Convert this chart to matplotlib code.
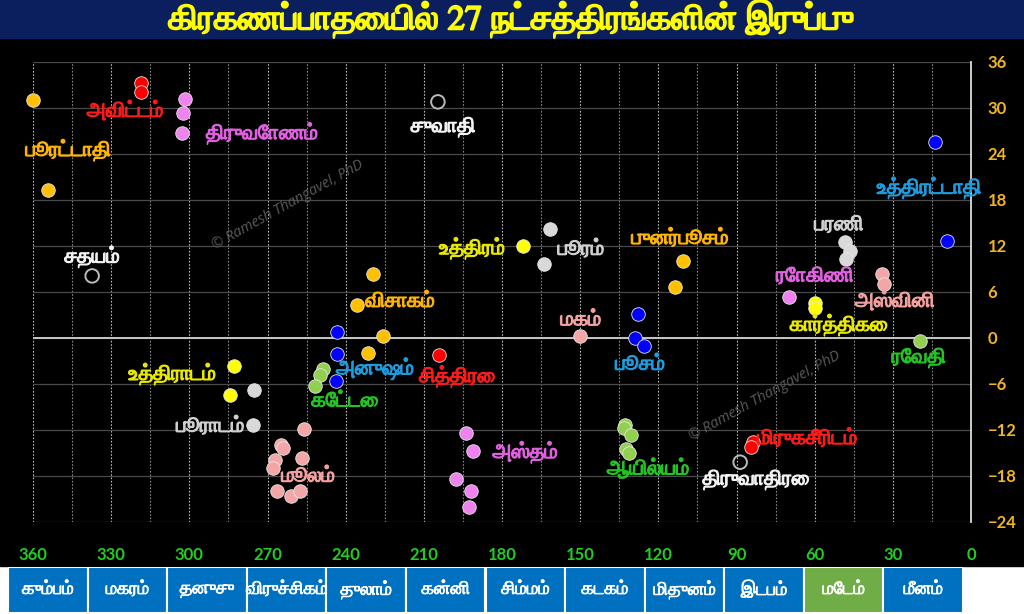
import matplotlib
matplotlib.use('Agg')
import matplotlib.pyplot as plt
import matplotlib.patheffects as pe
from matplotlib.patches import Rectangle

# --- data -------------------------------------------------------------
title = 'கிரகணப்பாதையில் 27 நட்சத்திரங்களின் இருப்பு'

names = ['அஸ்வினி', 'பரணி', 'கார்த்திகை', 'ரோகிணி', 'மிருகசீரிடம்', 'திருவாதிரை',
         'புனர்பூசம்', 'பூசம்', 'ஆயில்யம்', 'மகம்', 'பூரம்', 'உத்திரம்',
         'அஸ்தம்', 'சித்திரை', 'சுவாதி', 'விசாகம்', 'அனுஷம்', 'கேட்டை',
         'மூலம்', 'பூராடம்', 'உத்திராடம்', 'திருவோணம்', 'அவிட்டம்', 'சதயம்',
         'பூரட்டாதி', 'உத்திரட்டாதி', 'ரேவதி']

# ecliptic longitude (deg) of each star in the group
lons = [[34.0, 33.3], [48.4, 46.4, 48.1], [60.0, 59.9], [69.8], [83.8, 84.4], [88.6],
        [110.4, 113.6], [127.9, 128.9, 125.5], [132.8, 133.2, 130.5, 132.4, 131.1],
        [150.0], [161.5, 163.7], [172.0],
        [193.9, 191.0, 197.7, 192.0, 192.5], [204.3], [204.6], [229.7, 235.7, 225.8, 231.3],
        [243.4, 243.2, 243.6], [248.7, 250.0, 251.7],
        [256.0, 264.8, 264.2, 256.7, 267.1, 268.0, 266.2, 261.1, 257.5], [275.1, 275.5],
        [282.8, 284.3], [301.6, 302.4, 302.8], [318.5, 318.6], [337.3],
        [360.0, 354.2], [13.8, 9.1], [19.6]]

# ecliptic latitude (deg)
lats = [[8.4, 7.0], [12.5, 11.3, 10.3], [4.6, 3.9], [5.3], [-13.5, -14.2], [-16.2],
        [10.0, 6.7], [3.1, 0.0, -1.0], [-11.4, -11.8, -12.7, -14.5, -15.0],
        [0.2], [14.2, 9.6], [12.0],
        [-12.4, -14.8, -18.4, -19.9, -22.0], [-2.2], [30.8], [8.4, 4.3, 0.2, -2.0],
        [0.8, -2.1, -5.6], [-4.1, -4.8, -6.3],
        [-11.9, -14.0, -14.3, -15.7, -15.9, -17.0, -19.9, -20.6, -19.9], [-6.8, -11.3],
        [-3.7, -7.4], [31.2, 29.4, 26.7], [33.3, 32.1], [8.1],
        [31.0, 19.3], [25.6, 12.6], [-0.4]]

rasis = ['கும்பம்', 'மகரம்', 'தனுசு', 'விருச்சிகம்', 'துலாம்', 'கன்னி',
         'சிம்மம்', 'கடகம்', 'மிதுனம்', 'இடபம்', 'மேடம்', 'மீனம்']

x_ticks = list(range(0, 361, 30))
y_ticks = list(range(-24, 37, 6))

# --- layout / style ----------------------------------------------------
# label anchor for every name (lon, lat)
label_pos = [(29.2, 4.7), (50.7, 14.7), (50.7, 1.7), (59.9, 8.0), (62.9, -13.2), (82.5, -18.5),
             (111.7, 12.9), (127.0, -3.5), (123.9, -17.1), (149.7, 2.3), (149.7, 11.5), (191.5, 11.7),
             (171.1, -14.9), (197.2, -5.0), (202.6, 27.5), (219.1, 4.7), (228.7, -4.0), (240.2, -8.3),
             (254.4, -18.1), (292.0, -11.6), (306.6, -4.7), (272.1, 26.7), (324.6, 29.5), (337.3, 10.6),
             (346.5, 24.5), (16.1, 19.6), (20.0, -2.6)]

# the nine lords repeat through the 27 stars
dot_cols = ['#F4A6A6', '#D9D9D9', '#FFFF00', '#EE82EE', '#FF0000', 'none',
            '#FFC000', '#0000FF', '#92D050']
txt_cols = ['#F2A0A0', '#D0D0D0', '#E8E800', '#E060E0', '#FF1A1A', '#F2F2F2',
            '#FFB400', '#1E9BDC', '#22C322']

# FreeSerif regular maps the Tamil vowel signs best without a shaper;
# a thin stroke of the same colour stands in for the bold face
tamil = ['FreeSerif', 'DejaVu Sans']


def fat(col, w):
    return [pe.withStroke(linewidth=w, foreground=col)]


W, H = 1024, 614
fig = plt.figure(figsize=(W / 100, H / 100), dpi=100, facecolor='white')

# black panel + title bar
fig.patches.append(Rectangle((0, (H - 566) / H), 1, 566 / H, transform=fig.transFigure,
                             color='black', zorder=-5))
fig.patches.append(Rectangle((0, (H - 38) / H), 1, 38 / H, transform=fig.transFigure,
                             color='#0B1F5E', zorder=-4))
fig.text(0.5, (H - 19) / H, title, color='#FFFF00', fontsize=25, weight='normal',
         family=tamil, ha='center', va='center', path_effects=fat('#FFFF00', 1.4))

ax = fig.add_axes([33 / W, (H - 522) / H, 938 / W, 460 / H])
ax.set_facecolor('black')
ax.set_xlim(360, 0)
ax.set_ylim(-24, 36)

for x in range(0, 361, 15):
    ax.axvline(x, color='#BBBBBB' if x % 30 == 0 else '#888888', lw=0.8,
               ls=(0, (1.5, 1.5)), zorder=1)
for y in y_ticks:
    ax.axhline(y, color='#4A4A4A', lw=0.9, zorder=1)
ax.axhline(0, color='#C8C8C8', lw=1.4, zorder=1)

for s in ['left', 'top', 'bottom']:
    ax.spines[s].set_visible(False)
ax.spines['right'].set_color('#DDDDDD')
ax.spines['right'].set_linewidth(1.3)

for i, nm in enumerate(names):
    k = i % 9
    if dot_cols[k] == 'none':
        ax.scatter(lons[i], lats[i], s=95, facecolors='none', edgecolors='#BBBBBB',
                   linewidths=1.4, zorder=3, clip_on=False)
    else:
        ax.scatter(lons[i], lats[i], s=95, color=dot_cols[k], edgecolors='#E8E8E8',
                   linewidths=0.6, zorder=3, clip_on=False)
    lx, ly = label_pos[i]
    ax.text(lx, ly, nm, color=txt_cols[k], fontsize=15, weight='normal', family=tamil,
            ha='center', va='center', zorder=4, path_effects=fat(txt_cols[k], 0.9))

# watermark
for (px, py) in [(288, 205), (765, 396)]:
    fig.text(px / W, 1 - py / H, '© Ramesh Thangavel, PhD', color='#5A5A5A',
             fontsize=10.5, style='italic', family='Open Sans', rotation=29,
             ha='center', va='center')

ax.set_xticks(x_ticks)
ax.set_xticklabels([str(v) for v in x_ticks])
ax.set_yticks(y_ticks)
ax.yaxis.tick_right()
ax.tick_params(axis='x', length=0, pad=18, colors='#22CC22', labelsize=12)
ax.tick_params(axis='y', length=0, pad=12, colors='#F2B522', labelsize=12)
for lab in ax.get_xticklabels() + ax.get_yticklabels():
    lab.set_fontweight('bold')
    lab.set_family('Lato')

# rasi strip along the bottom
bx = fig.add_axes([8 / W, (H - 613) / H, 955 / W, 46 / H])
bx.set_xlim(0, 12)
bx.set_ylim(0, 1)
bx.axis('off')
for i, r in enumerate(rasis):
    col = '#70AD47' if r == 'மேடம்' else '#0070C0'
    bx.add_patch(Rectangle((i, 0), 1, 1, facecolor=col, edgecolor='white', lw=1.5))
    bx.text(i + 0.5, 0.5, r, color='white', fontsize=13, weight='normal', family=tamil,
            ha='center', va='center', path_effects=fat('white', 0.6))

fig.savefig('out.png', dpi=100, facecolor=fig.get_facecolor())
